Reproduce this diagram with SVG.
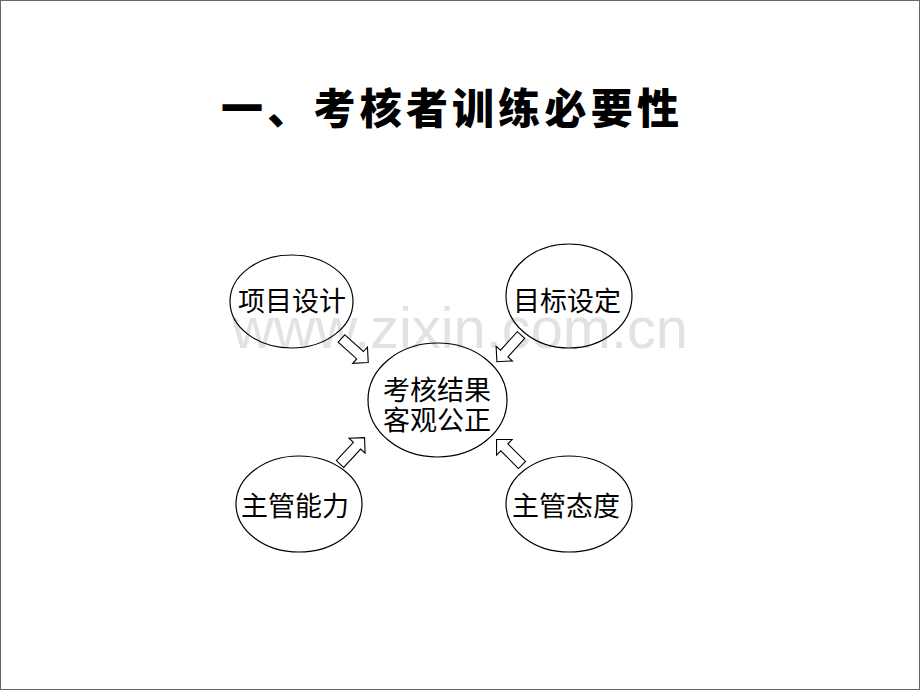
<svg xmlns="http://www.w3.org/2000/svg" width="920" height="690" viewBox="0 0 920 690">
<defs>
<style>
.node ellipse{fill:none;stroke:#000;stroke-width:1.2}
.lbl{font-family:"Noto Sans CJK SC","Noto Sans CJK TC",sans-serif;font-size:27px;fill:#000;text-anchor:middle}
.arr{fill:#fff;stroke:#000;stroke-width:1.1;stroke-linejoin:miter}
</style>
<polygon id="blk" points="0,-5 25,-5 25,-11 36,0 25,11 25,5 0,5"/>
</defs>
<rect x="0.5" y="0.5" width="919" height="689" fill="#fff" stroke="#666" stroke-width="1"/>
<text x="232" y="348" textLength="456" lengthAdjust="spacingAndGlyphs" font-family="Liberation Sans, Arial, sans-serif" font-size="57" fill="#e2e2e2">www.zixin.com.cn</text>
<text id="title" x="450" y="124" textLength="458" lengthAdjust="spacing" text-anchor="middle" font-family="Noto Sans CJK SC, sans-serif" font-weight="900" font-size="42" fill="#000">一、考核者训练必要性</text>
<g id="n1" class="node"><ellipse cx="291.5" cy="301.5" rx="61.5" ry="46.5"/><text class="lbl" x="292" y="311">项目设计</text></g>
<g id="n2" class="node"><ellipse cx="569" cy="296" rx="63" ry="52"/><text class="lbl" x="567" y="311">目标设定</text></g>
<g id="n3" class="node"><ellipse cx="437.5" cy="400" rx="69.5" ry="57"/><text class="lbl" x="437" y="400">考核结果</text><text class="lbl" x="437" y="430">客观公正</text></g>
<g id="n4" class="node"><ellipse cx="299" cy="504" rx="63" ry="48"/><text class="lbl" x="295" y="516">主管能力</text></g>
<g id="n5" class="node"><ellipse cx="569" cy="504" rx="63" ry="48"/><text class="lbl" x="566" y="516">主管态度</text></g>
<g id="connectors">
<use href="#blk" class="arr" transform="translate(341.5,338.5) rotate(42)"/>
<use href="#blk" class="arr" transform="translate(521,335) rotate(132)"/>
<use href="#blk" class="arr" transform="translate(340,464) rotate(-47)"/>
<use href="#blk" class="arr" transform="translate(522,465) rotate(-135)"/>
</g>
</svg>
